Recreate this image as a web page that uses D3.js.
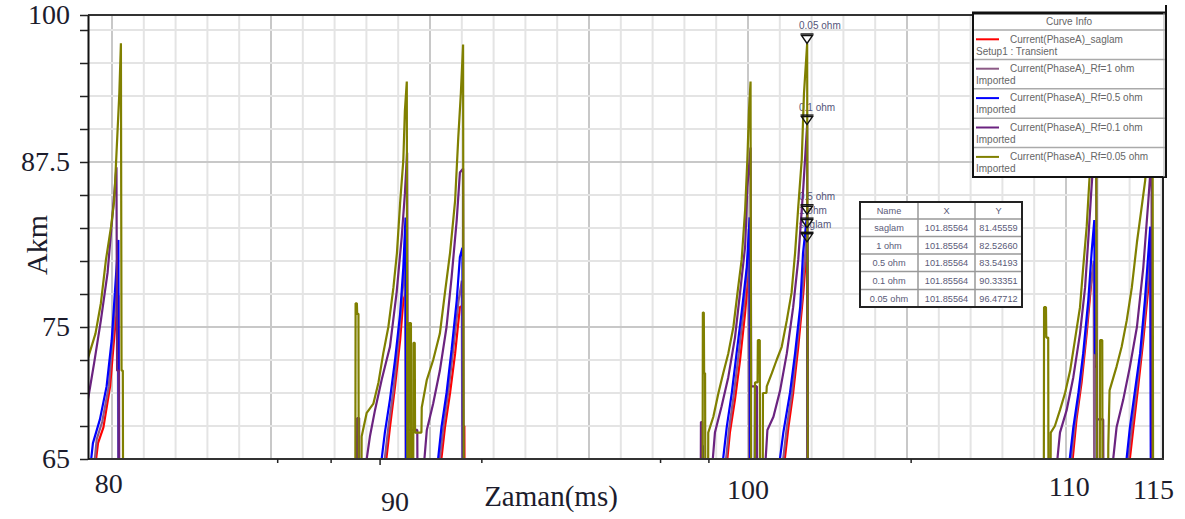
<!DOCTYPE html>
<html><head><meta charset="utf-8">
<script src="https://cdn.jsdelivr.net/npm/d3@7"></script>
<style>body{margin:0;background:#fff;} svg{display:block;}</style>
</head><body><svg id="c" width="1185" height="519"></svg>
<script>
// ---------------- DATA ----------------
const seriesNames = ["saglam", "1 ohm", "0.5 ohm", "0.1 ohm", "0.05 ohm"];
const seriesColors = ["#ff0000", "#8c5a86", "#0000ff", "#6b2380", "#808000"];

// [time (ms), current (A)] ; values below 65 fall under the visible range
const saglam = [[79.2,60],[79.45,64],[79.56,66.2],[79.73,67.4],[79.94,70.5],[80.09,74.8],[80.20,77.4],[80.22,60],
  [88.57,60],[88.58,64],[88.74,67.4],[88.90,70.5],[89.06,74.0],[89.16,77.0],[89.24,77.6],[89.26,67.0],[89.33,67.0],[89.34,60],
  [90.30,60],[90.31,64],[90.47,67.4],[90.63,70.0],[90.79,73.0],[90.94,76.5],[91.01,76.6],[91.03,67.5],[91.08,67.5],[91.09,60],
  [99.30,60],[99.31,64],[99.43,67.0],[99.59,69.5],[99.75,72.5],[99.91,76.1],[100.03,79.5],[100.05,60],
  [101.10,60],[101.11,64],[101.27,67.4],[101.42,70.0],[101.58,73.5],[101.74,77.6],[101.86,81.46],[101.88,60],
  [110.16,60],[110.17,64],[110.33,68.0],[110.49,70.8],[110.65,74.5],[110.81,78.8],[110.88,79.5],[110.90,72.0],[110.97,72.0],[110.98,60],
  [111.95,60],[111.96,64],[112.12,67.4],[112.27,70.5],[112.43,74.0],[112.59,78.0],[112.67,79.8],[112.69,60],[113.2,60]];

const rf1 = [[79.2,60],[79.42,64],[79.52,66.5],[79.69,67.8],[79.90,70.5],[80.06,75.2],[80.18,79.0],[80.20,60],
  [88.52,60],[88.53,64],[88.69,67.4],[88.85,70.2],[89.01,74.0],[89.13,77.5],[89.22,80.0],[89.24,60],
  [90.25,60],[90.26,64],[90.42,67.4],[90.58,70.2],[90.74,73.5],[90.90,77.0],[91.00,78.5],[91.02,60],
  [99.26,60],[99.27,64],[99.40,67.2],[99.55,69.8],[99.71,73.0],[99.87,76.5],[100.02,81.0],[100.04,60],
  [101.05,60],[101.06,64],[101.22,67.4],[101.38,70.0],[101.53,73.3],[101.69,77.0],[101.86,82.53],[101.88,60],
  [110.11,60],[110.12,64],[110.28,67.6],[110.44,70.4],[110.60,73.8],[110.76,77.8],[110.87,80.0],[110.89,60],
  [111.90,60],[111.91,64],[112.07,67.4],[112.22,70.3],[112.38,73.5],[112.54,77.5],[112.66,81.0],[112.68,60],[113.2,60]];

const rf05 = [[79.2,60],[79.30,64],[79.40,66.2],[79.62,68.0],[79.83,70.5],[79.99,74.0],[80.09,77.6],[80.20,81.6],[80.22,60],
  [87.71,60],[87.72,66.0],[87.75,66.0],[87.76,60],
  [88.42,60],[88.43,64],[88.58,67.0],[88.74,69.5],[88.90,72.5],[89.06,76.0],[89.16,79.5],[89.23,83.3],[89.25,60],
  [90.20,60],[90.21,64],[90.36,67.4],[90.52,70.0],[90.68,73.3],[90.84,77.0],[90.94,80.3],[91.02,81.0],[91.04,60],
  [98.54,60],[98.55,66.0],[98.58,66.0],[98.59,60],
  [99.16,60],[99.17,64],[99.33,67.4],[99.49,70.0],[99.64,73.0],[99.80,76.1],[99.96,79.5],[100.05,83.3],[100.07,60],
  [100.21,60],[100.22,70.5],[100.26,70.5],[100.27,60],
  [100.94,60],[100.95,64],[101.11,67.0],[101.32,70.0],[101.48,73.0],[101.64,76.5],[101.73,80.6],[101.86,83.54],[101.88,60],
  [110.06,60],[110.07,64],[110.23,67.4],[110.39,70.0],[110.54,73.0],[110.70,77.0],[110.81,80.8],[110.89,83.1],[110.91,73.0],[110.96,73.0],[110.97,60],
  [111.85,60],[111.86,64],[112.01,67.4],[112.17,70.2],[112.33,73.0],[112.48,77.0],[112.65,82.6],[112.67,60],[113.2,60]];

const rf01 = [[79.2,68.9],[79.30,70.3],[79.44,72.3],[79.65,75.5],[79.86,79.1],[80.02,83.6],[80.14,87.1],[80.16,71.7],[80.22,71.7],[80.23,60],
  [87.70,60],[87.71,68.1],[87.77,68.1],[87.78,60],
  [87.94,60],[87.95,64],[88.11,66.7],[88.27,68.7],[88.48,71.0],[88.74,73.5],[88.95,77.6],[89.11,81.8],[89.21,85.1],[89.28,88.2],[89.30,67.2],[89.60,67.2],[89.61,60],
  [89.78,60],[89.79,64],[89.90,67.2],[90.10,69.2],[90.31,71.7],[90.52,75.0],[90.68,78.8],[90.84,83.1],[90.94,86.7],[91.04,87.0],[91.06,60],
  [98.51,60],[98.52,67.8],[98.56,67.8],[98.57,60],
  [98.85,60],[98.86,64],[98.96,67.0],[99.17,69.0],[99.38,71.2],[99.59,74.2],[99.75,77.6],[99.91,81.1],[99.98,85.6],[100.08,88.6],[100.10,70.5],[100.28,70.5],[100.29,60],
  [100.52,60],[100.53,64],[100.61,67.2],[100.80,68.2],[101.01,70.2],[101.22,73.0],[101.42,76.5],[101.58,80.1],[101.74,85.6],[101.86,90.34],[101.88,60],
  [109.68,60],[109.69,64],[109.81,67.0],[110.02,68.7],[110.23,71.2],[110.44,74.5],[110.60,78.0],[110.70,81.6],[110.79,85.1],[110.87,88.0],[110.95,89.5],[110.97,68.0],[111.17,68.0],[111.18,60],
  [111.43,60],[111.44,64],[111.59,67.4],[111.80,69.5],[112.01,72.0],[112.23,75.0],[112.43,79.5],[112.59,84.6],[112.69,88.0],[112.71,60],[113.2,60]];

const rf005 = [[79.2,72.3],[79.48,74.5],[79.65,76.8],[79.81,80.1],[79.97,82.6],[80.07,84.6],[80.13,87.6],[80.23,92.7],[80.28,96.5],[80.30,71.7],[80.34,71.7],[80.35,60],
  [87.65,60],[87.66,76.8],[87.70,76.8],[87.71,76.0],[87.75,76.0],[87.76,60],
  [87.84,60],[87.85,66.7],[88.01,68.5],[88.22,69.2],[88.38,70.8],[88.53,73.0],[88.69,75.0],[88.85,78.0],[88.96,80.6],[89.06,84.4],[89.16,87.6],[89.21,91.4],[89.27,93.6],[89.29,60],
  [89.33,60],[89.34,75.3],[89.40,75.3],[89.41,60],[89.47,60],[89.48,73.8],[89.52,73.8],[89.53,67.0],[89.73,67.0],
  [89.74,68.9],[89.90,71.0],[90.10,72.5],[90.31,74.5],[90.47,77.6],[90.63,80.6],[90.79,84.6],[90.89,89.4],[90.97,92.7],[91.04,96.4],[91.06,60],
  [98.57,60],[98.58,76.1],[98.61,76.1],[98.62,71.5],[98.65,71.5],[98.66,60],
  [98.74,60],[98.75,67.0],[98.91,68.2],[99.07,70.0],[99.22,71.5],[99.38,73.0],[99.54,75.0],[99.69,78.0],[99.80,80.1],[99.91,83.9],[99.98,87.7],[100.03,91.4],[100.08,93.6],[100.10,60],
  [100.21,60],[100.22,70.8],[100.30,70.8],[100.31,74.0],[100.37,74.0],[100.38,60],[100.46,60],[100.47,70.0],[100.58,70.0],
  [100.59,70.5],[100.75,71.5],[100.90,72.5],[101.06,73.5],[101.22,75.5],[101.37,77.6],[101.48,80.6],[101.58,84.1],[101.69,87.7],[101.76,92.7],[101.86,96.47],[101.88,60],
  [109.30,60],[109.31,76.5],[109.37,76.5],[109.38,74.2],[109.44,74.2],[109.45,60],
  [109.51,60],[109.52,67.0],[109.65,67.5],[109.81,68.7],[109.97,70.0],[110.13,71.7],[110.28,74.0],[110.44,76.5],[110.54,79.5],[110.65,82.6],[110.73,85.9],[110.82,89.5],[110.88,92.5],[110.95,94.0],[110.97,60],
  [111.06,60],[111.07,74.0],[111.14,74.0],[111.15,60],
  [111.32,60],[111.33,66.0],[111.37,70.2],[111.59,72.0],[111.75,73.5],[111.91,75.5],[112.07,78.0],[112.23,81.4],[112.38,84.1],[112.49,86.1],[112.58,89.0],[112.66,92.5],[112.72,95.0],[112.74,60],[113.2,60]];

const seriesData = [saglam, rf1, rf05, rf01, rf005];

// axis ticks and labels
const yTickValues = [65,67.5,70,72.5,75,77.5,80,82.5,85,87.5,90,92.5,95,97.5,98.636];
const yLabelValues = [65, 75, 87.5, 98.636];
const yLabelTexts = ["65", "75", "87.5", "100"];
const xGridValues = d3.range(80, 114, 1);
const xLabelTexts = ["80", "90", "100", "110", "115"];
const xLabelAt = [79.9, 88.9, 100.0, 110.1, 112.75];
const xLabelBaseline = [493, 511, 499, 496, 499];
const xStrayTicks = [85.21, 86.89, 88.43, 91.63, 97.25, 98.77, 105.13];

// legend
const legendTitle = "Curve Info";
const legendLine1 = ["Current(PhaseA)_saglam", "Current(PhaseA)_Rf=1 ohm", "Current(PhaseA)_Rf=0.5 ohm", "Current(PhaseA)_Rf=0.1 ohm", "Current(PhaseA)_Rf=0.05 ohm"];
const legendLine2 = ["Setup1 : Transient", "Imported", "Imported", "Imported", "Imported"];

// marker + table
const markerTime = 101.85564;
const markerValues = [81.45559, 82.52660, 83.54193, 90.33351, 96.47712];
const markerLabels = ["saglam", "1 ohm", "0.5 ohm", "0.1 ohm", "0.05 ohm"];
const tableHeader = ["Name", "X", "Y"];
const tableNames = ["saglam", "1 ohm", "0.5 ohm", "0.1 ohm", "0.05 ohm"];
const tableX = ["101.85564", "101.85564", "101.85564", "101.85564", "101.85564"];
const tableY = ["81.45559", "82.52660", "83.54193", "90.33351", "96.47712"];

// ---------------- DRAW ----------------
const svg = d3.select("#c");
const m = {l: 88, t: 15, r: 1163, b: 459};
const x = d3.scaleLinear().domain([79.245, 113.05]).range([m.l, m.r]);
const y = d3.scaleLinear().domain([65, 98.636]).range([m.b, m.t]);
const defs = svg.append("defs");
defs.append("clipPath").attr("id", "plotclip")
  .append("rect").attr("x", m.l).attr("y", m.t).attr("width", m.r - m.l).attr("height", m.b - m.t);

// grid
const grid = svg.append("g");
grid.selectAll(".vg").data(xGridValues).join("line")
  .attr("x1", d => x(d)).attr("x2", d => x(d)).attr("y1", m.t).attr("y2", m.b)
  .attr("stroke", d => d % 5 === 0 ? "#c8c8c8" : "#e4e4e4").attr("stroke-width", 2);
grid.selectAll(".hg").data(yTickValues.slice(1, -1)).join("line")
  .attr("x1", m.l).attr("x2", m.r).attr("y1", d => y(d)).attr("y2", d => y(d))
  .attr("stroke", d => (d === 75 || d === 87.5) ? "#c8c8c8" : "#e4e4e4").attr("stroke-width", 2);

// marker labels (under the curves)
const mx = x(markerTime);
svg.append("g").selectAll("text").data(markerValues).join("text")
  .attr("x", mx - 8).attr("y", d => y(d) - 14)
  .attr("font-family", "Liberation Sans, Arial, sans-serif").attr("font-size", 10)
  .attr("fill", "#55557a").text((d, i) => markerLabels[i]);

// curves
const line = d3.line().x(d => x(d[0])).y(d => y(d[1]));
const curves = svg.append("g").attr("clip-path", "url(#plotclip)");
seriesData.forEach((s, i) => {
  curves.append("path").attr("d", line(s)).attr("fill", "none")
    .attr("stroke", seriesColors[i]).attr("stroke-width", 2.2).attr("stroke-linejoin", "bevel");
});

// markers (triangles)
const mk = svg.append("g");
markerValues.forEach(v => {
  const py = y(v);
  mk.append("path").attr("d", `M${mx - 5.5},${py - 8} L${mx + 5.5},${py - 8} L${mx},${py} Z`)
    .attr("fill", "none").attr("stroke", "#111").attr("stroke-width", 1.4);
  mk.append("line").attr("x1", mx - 6.5).attr("x2", mx + 6.5).attr("y1", py - 9.5).attr("y2", py - 9.5)
    .attr("stroke", "#111").attr("stroke-width", 1.4);
});

// frame
svg.append("line").attr("x1", m.l).attr("x2", m.r).attr("y1", m.t).attr("y2", m.t).attr("stroke", "#333").attr("stroke-width", 2);
svg.append("line").attr("x1", m.r).attr("x2", m.r).attr("y1", m.t).attr("y2", m.b).attr("stroke", "#222").attr("stroke-width", 2);
svg.append("line").attr("x1", m.l).attr("x2", m.r + 1).attr("y1", m.b).attr("y2", m.b).attr("stroke", "#333").attr("stroke-width", 2);

// y axis
const yAxis = d3.axisLeft(y).tickValues(yTickValues).tickSize(8).tickSizeOuter(0).tickPadding(10)
  .tickFormat(d => { const k = yLabelValues.indexOf(d); return k >= 0 ? yLabelTexts[k] : ""; });
const ya = svg.append("g").attr("transform", `translate(${m.l},0)`).call(yAxis);
ya.select(".domain").attr("stroke", "#111").attr("stroke-width", 2);
ya.selectAll(".tick line").attr("stroke", "#222").attr("stroke-width", 1.5);
ya.selectAll(".tick text").attr("font-family", "Liberation Serif, Times New Roman, serif")
  .attr("font-size", 28).attr("fill", "#1c1c2c");

// x stray ticks
svg.append("g").selectAll("line").data(xStrayTicks).join("line")
  .attr("x1", d => x(d)).attr("x2", d => x(d)).attr("y1", m.b).attr("y2", (d, i) => m.b + (i === 2 ? 6 : 4))
  .attr("stroke", "#222").attr("stroke-width", 1.5);

// x labels
svg.append("g").selectAll("text").data(xLabelTexts).join("text")
  .attr("x", (d, i) => x(xLabelAt[i])).attr("y", (d, i) => xLabelBaseline[i])
  .attr("text-anchor", "middle").attr("font-family", "Liberation Serif, Times New Roman, serif")
  .attr("font-size", 28).attr("fill", "#1c1c2c").text(d => d);

// axis titles
svg.append("text").attr("x", 551).attr("y", 506).attr("text-anchor", "middle")
  .attr("font-family", "Liberation Serif, Times New Roman, serif").attr("font-size", 29)
  .attr("fill", "#1c1c2c").text("Zaman(ms)");
svg.append("text").attr("transform", "translate(47,245) rotate(-90)").attr("text-anchor", "middle")
  .attr("font-family", "Liberation Serif, Times New Roman, serif").attr("font-size", 30)
  .attr("fill", "#1c1c2c").text("Akm");

// legend box
const lg = svg.append("g");
const lx0 = 973, lx1 = 1165, ly0 = 13, ly1 = 177, titleBottom = 30;
const rowH = (ly1 - titleBottom) / legendLine1.length;
defs.append("clipPath").attr("id", "legclip").append("rect").attr("x", lx0).attr("y", ly0).attr("width", lx1 - lx0 - 1).attr("height", ly1 - ly0);
lg.append("rect").attr("x", lx0).attr("y", ly0).attr("width", lx1 - lx0).attr("height", ly1 - ly0).attr("fill", "#fff");
const lgt = lg.append("g").attr("clip-path", "url(#legclip)");
const lFont = t => t.attr("font-family", "Liberation Sans, Arial, sans-serif").attr("font-size", 10).attr("fill", "#666");
lgt.append("text").attr("x", (lx0 + lx1) / 2).attr("y", 25).attr("text-anchor", "middle").call(lFont).text(legendTitle);
legendLine1.forEach((t, i) => {
  const top = titleBottom + i * rowH;
  lg.append("line").attr("x1", lx0).attr("x2", lx1).attr("y1", top).attr("y2", top).attr("stroke", "#aaa").attr("stroke-width", 1.5);
  lg.append("line").attr("x1", 976).attr("x2", 999).attr("y1", top + 9.3).attr("y2", top + 9.3)
    .attr("stroke", seriesColors[i]).attr("stroke-width", 2);
  lgt.append("text").attr("x", 1010).attr("y", top + 12.5).call(lFont).text(t);
  lgt.append("text").attr("x", 976).attr("y", top + 24.5).call(lFont).text(legendLine2[i]);
});
lg.append("line").attr("x1", lx0).attr("x2", lx0).attr("y1", ly0).attr("y2", ly1).attr("stroke", "#111").attr("stroke-width", 2);
lg.append("line").attr("x1", lx0 - 1).attr("x2", lx1 + 2).attr("y1", ly0).attr("y2", ly0).attr("stroke", "#111").attr("stroke-width", 3);
lg.append("line").attr("x1", lx0 - 1).attr("x2", lx1 + 2).attr("y1", ly1).attr("y2", ly1).attr("stroke", "#111").attr("stroke-width", 2);
lg.append("line").attr("x1", lx1 - 1).attr("x2", lx1 - 1).attr("y1", ly0).attr("y2", ly1).attr("stroke", "#aaa").attr("stroke-width", 1);
lg.append("line").attr("x1", lx1 + 1).attr("x2", lx1 + 1).attr("y1", 5).attr("y2", ly1 + 1).attr("stroke", "#111").attr("stroke-width", 2);

// table
const tb = svg.append("g");
const tx = [860, 918, 975, 1022];
const tyRows = [202, 219, 236.5, 254, 271.5, 289.5, 307];
tb.append("rect").attr("x", tx[0]).attr("y", tyRows[0]).attr("width", tx[3] - tx[0]).attr("height", tyRows[6] - tyRows[0])
  .attr("fill", "#fff");
tyRows.slice(1, -1).forEach(r => tb.append("line").attr("x1", tx[0]).attr("x2", tx[3]).attr("y1", r).attr("y2", r)
  .attr("stroke", "#999").attr("stroke-width", 1.5));
[tx[1], tx[2]].forEach(c => tb.append("line").attr("x1", c).attr("x2", c).attr("y1", tyRows[0]).attr("y2", tyRows[6])
  .attr("stroke", "#999").attr("stroke-width", 1.5));
tb.append("rect").attr("x", tx[0]).attr("y", tyRows[0]).attr("width", tx[3] - tx[0]).attr("height", tyRows[6] - tyRows[0])
  .attr("fill", "none").attr("stroke", "#222").attr("stroke-width", 2);
const cols = [tableNames, tableX, tableY];
const tFont = t => t.attr("font-family", "Liberation Sans, Arial, sans-serif").attr("font-size", 9.2).attr("fill", "#5a5a78").attr("text-anchor", "middle");
tableHeader.forEach((h, c) => tb.append("text").attr("x", (tx[c] + tx[c + 1]) / 2).attr("y", (tyRows[0] + tyRows[1]) / 2 + 3.3).call(tFont).text(h));
cols.forEach((col, c) => col.forEach((v, r) => tb.append("text").attr("x", (tx[c] + tx[c + 1]) / 2)
  .attr("y", (tyRows[r + 1] + tyRows[r + 2]) / 2 + 3.3).call(tFont).text(v)));
</script></body></html>
